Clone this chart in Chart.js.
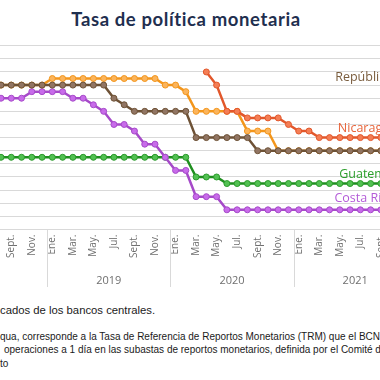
<!DOCTYPE html>
<html><head><meta charset="utf-8">
<script src="https://cdn.jsdelivr.net/npm/chart.js@4"></script>
<style>
html,body{margin:0;padding:0;background:#fff;}
#wrap{position:relative;width:380px;height:380px;overflow:hidden;background:#fff;}
#title{position:absolute;left:0;width:372px;top:9.5px;text-align:center;font-family:Lato,sans-serif;font-weight:bold;font-size:18.5px;letter-spacing:0.6px;line-height:18px;color:#1F2F4F;white-space:nowrap;}
#c{position:absolute;left:-80px;top:0;}
.fn{position:absolute;white-space:nowrap;font-family:"Liberation Sans",Arial,sans-serif;color:#1a1a1a;line-height:14px;}
</style></head><body>
<div id="wrap">
<div id="title">Tasa de política monetaria</div>
<canvas id="c" width="505" height="290" style="width:505px;height:290px"></canvas>
<div class="fn" style="left:0;top:303px;font-size:11.3px;">cados de los bancos centrales.</div>
<div class="fn" style="left:0;top:329.5px;font-size:10px;">qua, corresponde a la Tasa de Referencia de Reportos Monetarios (TRM) que el BCN</div>
<div class="fn" style="left:4px;top:343.2px;font-size:10px;">operaciones a 1 día en las subastas de reportos monetarios, definida por el Comité d</div>
<div class="fn" style="left:0;top:356.9px;font-size:10px;">to</div>
</div>
<script>
// Categories: months Jan 2018 .. Dec 2021
const monthLabels = [
 'Ene.','Feb.','Mar.','Abr.','May.','Jun.','Jul.','Ago.','Sept.','Oct.','Nov.','Dic.',
 'Ene.','Feb.','Mar.','Abr.','May.','Jun.','Jul.','Ago.','Sept.','Oct.','Nov.','Dic.',
 'Ene.','Feb.','Mar.','Abr.','May.','Jun.','Jul.','Ago.','Sept.','Oct.','Nov.','Dic.',
 'Ene.','Feb.','Mar.','Abr.','May.','Jun.','Jul.','Ago.','Sept.','Oct.','Nov.','Dic.'
];
const yearOf = [
 '2018','2018','2018','2018','2018','2018','2018','2018','2018','2018','2018','2018',
 '2019','2019','2019','2019','2019','2019','2019','2019','2019','2019','2019','2019',
 '2020','2020','2020','2020','2020','2020','2020','2020','2020','2020','2020','2020',
 '2021','2021','2021','2021','2021','2021','2021','2021','2021','2021','2021','2021'
];
const yearLabels = ['2018','2019','2020','2021'];
const shownMonths = ['Ene.','Mar.','May.','Jul.','Sept.','Nov.'];

const nicaragua = [
 null,null,null,null,null,null,null,null,null,null,null,null,
 null,null,null,null,null,null,null,null,null,null,null,null,
 null,null,null,6.0,5.5,4.5,4.5,4.25,4.25,4.25,4.25,4.0,
 3.75,3.75,3.5,3.5,3.5,3.5,3.5,3.5,3.5,null,null,null
];
const repDominicana = [
 null,null,null,null,null,null,5.5,5.5,5.5,5.5,5.5,5.5,
 5.5,5.5,5.5,5.5,5.5,5.5,5.0,4.75,4.5,4.5,4.5,4.5,
 4.5,4.5,3.5,3.5,3.5,3.5,3.5,3.5,3.0,3.0,3.0,3.0,
 3.0,3.0,3.0,3.0,3.0,3.0,3.0,3.0,3.0,null,null,null
];
const costaRica = [
 null,null,null,null,null,null,5.0,5.0,5.0,5.0,5.25,5.25,
 5.25,5.25,5.0,5.0,4.75,4.5,4.0,4.0,3.75,3.25,3.25,2.75,
 2.25,2.25,1.25,1.25,1.25,0.75,0.75,0.75,0.75,0.75,0.75,0.75,
 0.75,0.75,0.75,0.75,0.75,0.75,0.75,0.75,0.75,null,null,null
];
const guatemala = [
 null,null,null,null,null,null,2.75,2.75,2.75,2.75,2.75,2.75,
 2.75,2.75,2.75,2.75,2.75,2.75,2.75,2.75,2.75,2.75,2.75,2.75,
 2.75,2.75,2.0,2.0,2.0,1.75,1.75,1.75,1.75,1.75,1.75,1.75,
 1.75,1.75,1.75,1.75,1.75,1.75,1.75,1.75,1.75,null,null,null
];
const honduras = [
 null,null,null,null,null,null,5.5,5.5,5.5,5.5,5.5,5.5,
 5.75,5.75,5.75,5.75,5.75,5.75,5.75,5.75,5.75,5.75,5.75,5.5,
 5.5,5.25,4.5,4.5,4.5,4.5,4.5,3.75,3.75,3.75,3.0,3.0,
 3.0,3.0,3.0,3.0,3.0,3.0,3.0,3.0,3.0,null,null,null
];

const yMin = 0, yMax = 7, yStep = 0.5;

function ds(label, data, line, fill, pborder) {
  return {label, data, borderColor: line, backgroundColor: fill, borderWidth: 2.5,
    pointRadius: 3, pointHoverRadius: 3, pointBackgroundColor: fill,
    pointBorderColor: pborder, pointBorderWidth: 1, tension: 0, spanGaps: false, fill: false};
}

const seriesText = [
  {text: 'República Dominicana', color: '#7A5D3E', at: 39.55, value: 5.67},
  {text: 'Nicaragua', color: '#E8643A', at: 39.81, value: 3.72},
  {text: 'Guatemala', color: '#2A9E2A', at: 39.94, value: 1.95},
  {text: 'Costa Rica', color: '#B45CD8', at: 39.48, value: 1.06}
];

const extras = {
  id: 'extras',
  afterDatasetsDraw(chart) {
    const ctx = chart.ctx, xs = chart.scales.x, ys = chart.scales.y;
    ctx.save();
    ctx.font = '12.5px "Open Sans"';
    ctx.textAlign = 'left';
    ctx.textBaseline = 'alphabetic';
    seriesText.forEach(s => {
      ctx.fillStyle = s.color;
      ctx.fillText(s.text, xs.getPixelForValue(s.at), ys.getPixelForValue(s.value));
    });
    ctx.restore();
  },
  afterDraw(chart) {
    const ctx = chart.ctx, xs = chart.scales.x;
    const bottom = chart.chartArea.bottom;
    ctx.save();
    ctx.strokeStyle = '#D9D9D9';
    ctx.lineWidth = 1;
    ctx.fillStyle = '#6F6F6F';
    ctx.font = '11px "Open Sans"';
    ctx.textAlign = 'center';
    ctx.textBaseline = 'alphabetic';
    yearLabels.forEach(y => {
      const first = yearOf.indexOf(y), last = yearOf.lastIndexOf(y);
      const l = xs.getPixelForValue(first - 0.5), r = xs.getPixelForValue(last + 0.5);
      [l, r].forEach(px => {
        const p = Math.round(px) + 0.5;
        ctx.beginPath(); ctx.moveTo(p, bottom); ctx.lineTo(p, bottom + 57.5); ctx.stroke();
      });
      ctx.fillText(y, (l + r) / 2, bottom + 54.8);
    });
    ctx.restore();
  }
};

new Chart(document.getElementById('c'), {
  type: 'line',
  data: {
    labels: monthLabels,
    datasets: [
      ds('Nicaragua', nicaragua, '#E2572B', '#F47E55', '#E2572B'),
      ds('República Dominicana', repDominicana, '#6E5236', '#917563', '#6E5236'),
      ds('Costa Rica', costaRica, '#A64AC9', '#C86BEA', '#A64AC9'),
      ds('Guatemala', guatemala, '#1F8F1F', '#52C152', '#2B9A2B'),
      ds('Honduras', honduras, '#F3961C', '#FBB45C', '#F3961C')
    ]
  },
  options: {
    responsive: false,
    animation: false,
    events: [],
    layout: {padding: {left: 2.8, right: 8.2, top: 45.7, bottom: 0}},
    plugins: {legend: {display: false}, title: {display: false}, tooltip: {enabled: false}},
    scales: {
      x: {
        offset: true,
        grid: {display: false, drawTicks: false},
        border: {display: true, color: '#D9D9D9', width: 1},
        ticks: {
          autoSkip: false, maxRotation: 90, minRotation: 90, padding: 5,
          color: '#6F6F6F', font: {family: '"Open Sans"', size: 10},
          callback: (v, i) => shownMonths.includes(monthLabels[i]) ? monthLabels[i] : ''
        },
        afterFit: s => { s.height = 60.5; s.paddingLeft = 0; s.paddingRight = 0; }
      },
      y: {
        min: yMin, max: yMax,
        ticks: {display: false, stepSize: yStep},
        grid: {color: '#D9D9D9', drawTicks: false, lineWidth: 1},
        border: {display: false},
        afterFit: s => { s.width = 0; s.paddingTop = 0; s.paddingBottom = 0; }
      }
    }
  },
  plugins: [extras]
});
</script>
</body></html>
